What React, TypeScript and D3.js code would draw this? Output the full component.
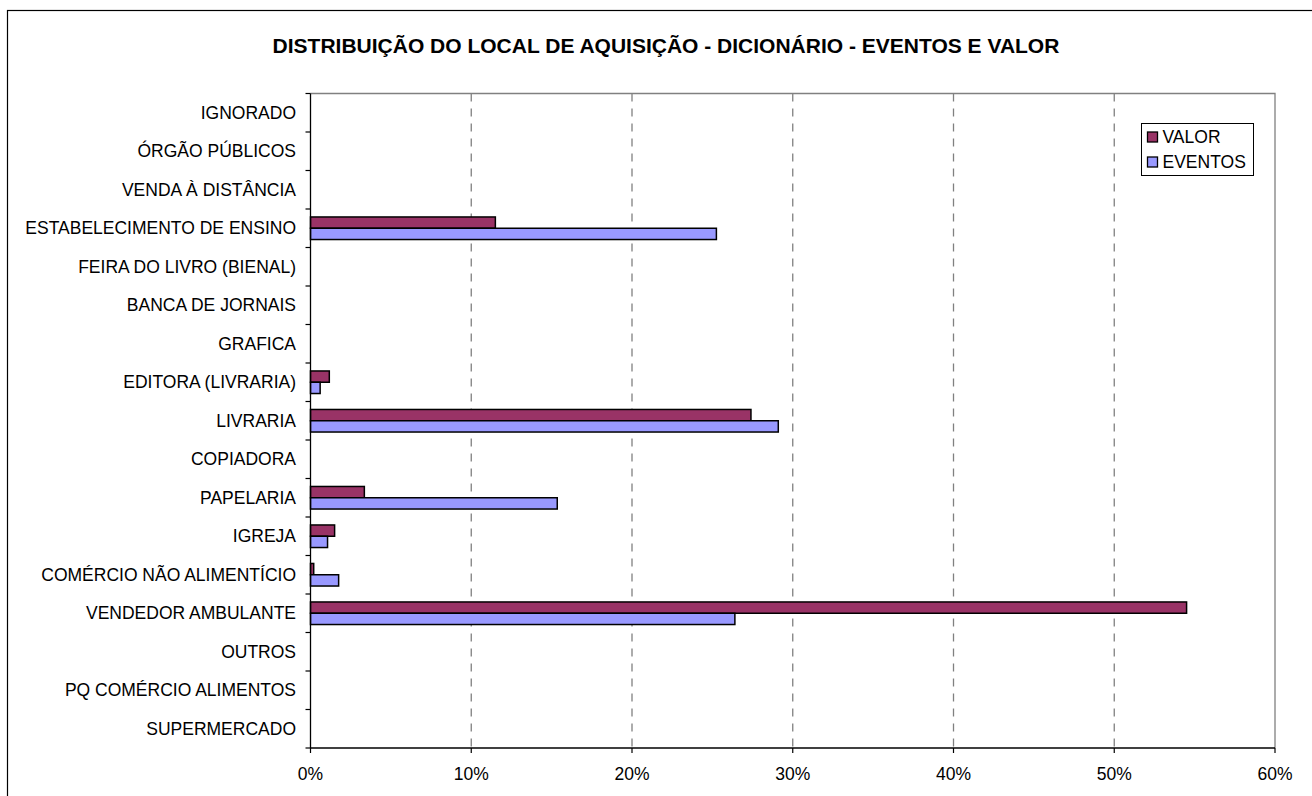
import React from "react";
import * as d3 from "d3";

const categories = [
  "IGNORADO",
  "ÓRGÃO PÚBLICOS",
  "VENDA À DISTÂNCIA",
  "ESTABELECIMENTO DE ENSINO",
  "FEIRA DO LIVRO (BIENAL)",
  "BANCA DE JORNAIS",
  "GRAFICA",
  "EDITORA (LIVRARIA)",
  "LIVRARIA",
  "COPIADORA",
  "PAPELARIA",
  "IGREJA",
  "COMÉRCIO NÃO ALIMENTÍCIO",
  "VENDEDOR AMBULANTE",
  "OUTROS",
  "PQ COMÉRCIO ALIMENTOS",
  "SUPERMERCADO",
];

const valor = [0, 0, 0, 0.115, 0, 0, 0, 0.0117, 0.274, 0, 0.0335, 0.015, 0.002, 0.545, 0, 0, 0];
const eventos = [0, 0, 0, 0.2525, 0, 0, 0, 0.006, 0.291, 0, 0.1535, 0.0106, 0.0175, 0.264, 0, 0, 0];

const xTicks = [0, 0.1, 0.2, 0.3, 0.4, 0.5, 0.6];
const seriesNames = ["VALOR", "EVENTOS"];
const seriesColors = ["#993366", "#9999FF"];

const TITLE = "DISTRIBUIÇÃO DO LOCAL DE AQUISIÇÃO - DICIONÁRIO - EVENTOS E VALOR";

export default function App() {
  const W = 1312;
  const H = 796;
  const left = 310.5;
  const right = 1275;
  const top = 93.5;
  const bottom = 748;
  const font = "Liberation Sans, Arial, Helvetica, sans-serif";

  const x = d3.scaleLinear().domain([0, 0.6]).range([left, right]);
  const y = d3.scaleBand<string>().domain(categories).range([top, bottom]).paddingInner(0).paddingOuter(0);
  const bw = y.bandwidth();
  const barH = bw * 0.293;
  const fmt = d3.format(".0%");

  const series = [valor, eventos];

  return (
    <div>
      <style>{"body{margin:0}"}</style>
      <svg width={W} height={H} style={{ display: "block", fontFamily: font }}>
        <rect x={0} y={0} width={W} height={H} fill="#fff" />
        <rect x={7.5} y={10.5} width={W + 20} height={H + 20} fill="none" stroke="#000" strokeWidth={1.2} />
        <text x={666} y={52.5} textAnchor="middle" fontSize={21} fontWeight="bold" fill="#000">
          {TITLE}
        </text>

        {/* plot area border (top/right) */}
        <path d={`M${left},${top}H${right}V${bottom}`} fill="none" stroke="#808080" strokeWidth={1.3} />

        {/* gridlines */}
        {xTicks.slice(1, -1).map((t) => (
          <line key={t} x1={x(t)} x2={x(t)} y1={top} y2={bottom} stroke="#808080" strokeWidth={1.3} strokeDasharray="8,7" />
        ))}

        {/* bars */}
        {categories.map((c, i) => {
          const cy = (y(c) as number) + bw / 2;
          return (
            <g key={c}>
              {series.map((s, k) =>
                s[i] > 0 ? (
                  <rect
                    key={k}
                    x={x(0)}
                    y={cy - barH + k * barH}
                    width={x(s[i]) - x(0)}
                    height={barH}
                    fill={seriesColors[k]}
                    stroke="#000"
                    strokeWidth={1.5}
                  />
                ) : null
              )}
            </g>
          );
        })}

        {/* axes */}
        <line x1={left} x2={left} y1={top} y2={bottom} stroke="#000" strokeWidth={1.3} />
        <line x1={left} x2={right} y1={bottom} y2={bottom} stroke="#000" strokeWidth={1.3} />
        {categories.map((c) => (
          <line key={"t" + c} x1={left - 5} x2={left} y1={y(c) as number} y2={y(c) as number} stroke="#000" strokeWidth={1.2} />
        ))}
        <line x1={left - 5} x2={left} y1={bottom} y2={bottom} stroke="#000" strokeWidth={1.2} />
        {xTicks.map((t) => (
          <g key={"x" + t}>
            <line x1={x(t)} x2={x(t)} y1={bottom} y2={bottom + 5} stroke="#000" strokeWidth={1.2} />
            <text x={x(t)} y={780} textAnchor="middle" fontSize={17.5} fill="#000">
              {fmt(t)}
            </text>
          </g>
        ))}
        {categories.map((c) => (
          <text
            key={"l" + c}
            x={296}
            y={(y(c) as number) + bw / 2}
            dy="0.35em"
            textAnchor="end"
            fontSize={17.5}
            fill="#000"
          >
            {c}
          </text>
        ))}

        {/* legend */}
        <rect x={1141.5} y={123.5} width={112} height={52} fill="#fff" stroke="#000" strokeWidth={1} />
        {seriesNames.map((n, k) => (
          <g key={n}>
            <rect x={1147.5} y={132 + k * 25} width={10} height={10} fill={seriesColors[k]} stroke="#000" strokeWidth={1.3} />
            <text x={1162.5} y={137 + k * 25} dy="0.35em" fontSize={17.5} fill="#000">
              {n}
            </text>
          </g>
        ))}
      </svg>
    </div>
  );
}
